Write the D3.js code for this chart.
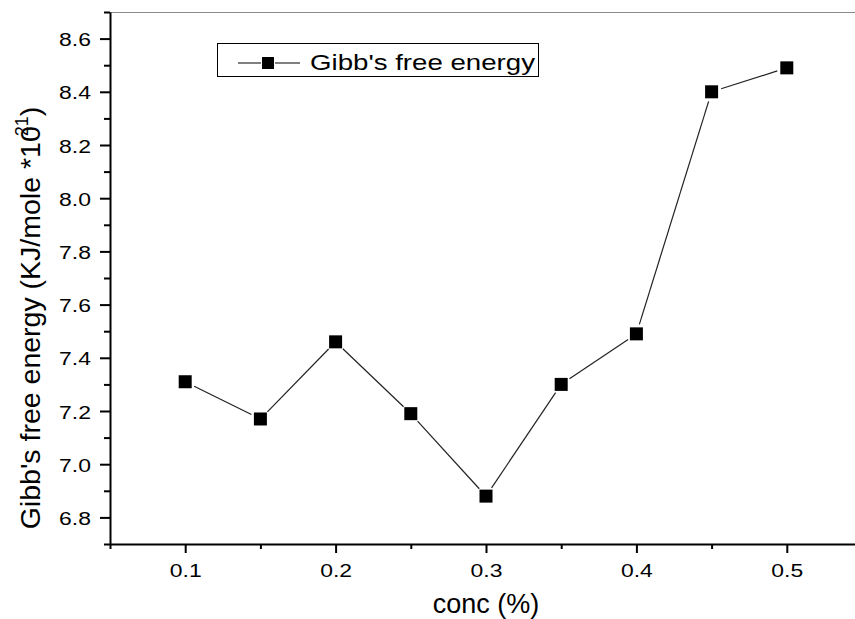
<!DOCTYPE html>
<html>
<head>
<meta charset="utf-8">
<script src="https://cdnjs.cloudflare.com/ajax/libs/d3/7.8.5/d3.min.js"></script>
<style>
  body { margin: 0; background: #fff; }
  svg { display: block; }
  text { font-family: Arial, "Liberation Sans", Helvetica, sans-serif; fill: #000; }
</style>
</head>
<body>
<div id="chart"></div>
<script>
//// data
const conc = [0.1, 0.15, 0.2, 0.25, 0.3, 0.35, 0.4, 0.45, 0.5];
const gibbs = [7.31, 7.17, 7.46, 7.19, 6.88, 7.30, 7.49, 8.40, 8.49];
const xTicks = [0.1, 0.2, 0.3, 0.4, 0.5];
const xMinor = [0.05, 0.15, 0.25, 0.35, 0.45, 0.55];
const yTicks = [6.8, 7.0, 7.2, 7.4, 7.6, 7.8, 8.0, 8.2, 8.4, 8.6];
const yMinor = [6.7, 6.9, 7.1, 7.3, 7.5, 7.7, 7.9, 8.1, 8.3, 8.5, 8.7];
const seriesName = "Gibb's free energy";

const width = 855, height = 619;
const plotL = 110, plotR = 862, plotT = 12, plotB = 544;

const svg = d3.select("#chart").append("svg")
    .attr("width", width)
    .attr("height", height);

const x = d3.scaleLinear().domain([0.05, 0.55]).range([plotL, plotR]);
const y = d3.scaleLinear().domain([6.7, 8.7]).range([plotB, plotT]);

// top frame line (grey)
svg.append("line")
    .attr("x1", plotL).attr("x2", plotR)
    .attr("y1", plotT + 0.5).attr("y2", plotT + 0.5)
    .attr("stroke", "#8a8a8a").attr("stroke-width", 1);

// axes - major ticks
const xAxis = svg.append("g")
    .attr("transform", `translate(0,${plotB})`)
    .call(d3.axisBottom(x).tickValues(xTicks).tickSize(9).tickSizeOuter(0).tickFormat(d3.format(".1f")));

const yAxis = svg.append("g")
    .attr("transform", `translate(${plotL},0)`)
    .call(d3.axisLeft(y).tickValues(yTicks).tickSize(10).tickSizeOuter(0).tickFormat(d3.format(".1f")));

// minor ticks
svg.append("g")
    .attr("transform", `translate(0,${plotB})`)
    .call(d3.axisBottom(x).tickValues(xMinor).tickSize(5).tickSizeOuter(0).tickFormat(""))
    .select(".domain").remove();
svg.append("g")
    .attr("transform", `translate(${plotL},0)`)
    .call(d3.axisLeft(y).tickValues(yMinor).tickSize(6).tickSizeOuter(0).tickFormat(""))
    .select(".domain").remove();

svg.selectAll(".domain, .tick line")
    .attr("stroke", "#000")
    .attr("stroke-width", 2);

// tick labels are drawn wide in the original
xAxis.selectAll(".tick text")
    .attr("y", 0)
    .attr("dy", 0)
    .attr("font-size", 18.5)
    .attr("transform", "translate(0,33) scale(1.24,1)");

yAxis.selectAll(".tick text")
    .attr("x", 0)
    .attr("dy", 0)
    .attr("font-size", 18.5)
    .attr("transform", "translate(-19,7) scale(1.24,1)");

// line segments, with small gaps near the markers
const pts = conc.map((c, i) => ({x: x(c), y: y(gibbs[i])}));
const gap = 10;
const segs = d3.pairs(pts).map(([a, b]) => {
  const dx = b.x - a.x, dy = b.y - a.y;
  const len = Math.sqrt(dx * dx + dy * dy);
  const ux = dx / len, uy = dy / len;
  return {x1: a.x + ux * gap, y1: a.y + uy * gap, x2: b.x - ux * gap, y2: b.y - uy * gap};
});

svg.append("g").selectAll("line")
    .data(segs)
    .join("line")
    .attr("x1", d => d.x1).attr("y1", d => d.y1)
    .attr("x2", d => d.x2).attr("y2", d => d.y2)
    .attr("stroke", "#222")
    .attr("stroke-width", 1.2);

// markers
const ms = 13;
svg.append("g").selectAll("rect")
    .data(pts)
    .join("rect")
    .attr("x", d => d.x - ms / 2)
    .attr("y", d => d.y - ms / 2)
    .attr("width", ms)
    .attr("height", ms)
    .attr("fill", "#000");

// legend
const lg = svg.append("g");
lg.append("rect")
    .attr("x", 217.5).attr("y", 43.5)
    .attr("width", 321).attr("height", 33)
    .attr("fill", "#fff").attr("stroke", "#000").attr("stroke-width", 1);
lg.append("line").attr("x1", 238).attr("x2", 261).attr("y1", 63).attr("y2", 63)
    .attr("stroke", "#000").attr("stroke-width", 1);
lg.append("line").attr("x1", 275).attr("x2", 300).attr("y1", 63).attr("y2", 63)
    .attr("stroke", "#000").attr("stroke-width", 1);
lg.append("rect").attr("x", 262).attr("y", 57).attr("width", 12).attr("height", 12).attr("fill", "#000");
lg.append("text")
    .attr("x", 310).attr("y", 70)
    .attr("font-size", 21.5)
    .attr("textLength", 225)
    .attr("lengthAdjust", "spacingAndGlyphs")
    .text(seriesName);

// axis titles
svg.append("text")
    .attr("x", (plotL + plotR) / 2)
    .attr("y", 613)
    .attr("text-anchor", "middle")
    .attr("font-size", 27)
    .text("conc (%)");

const yl = svg.append("text")
    .attr("transform", "translate(40,318) rotate(-90)")
    .attr("text-anchor", "middle")
    .attr("font-size", 28.5);
yl.append("tspan").text("Gibb's free energy (KJ/mole *10");
yl.append("tspan").attr("dy", -12).attr("dx", -10).attr("font-size", 18).text("21");
yl.append("tspan").attr("dy", 12).text(")");
</script>
</body>
</html>
